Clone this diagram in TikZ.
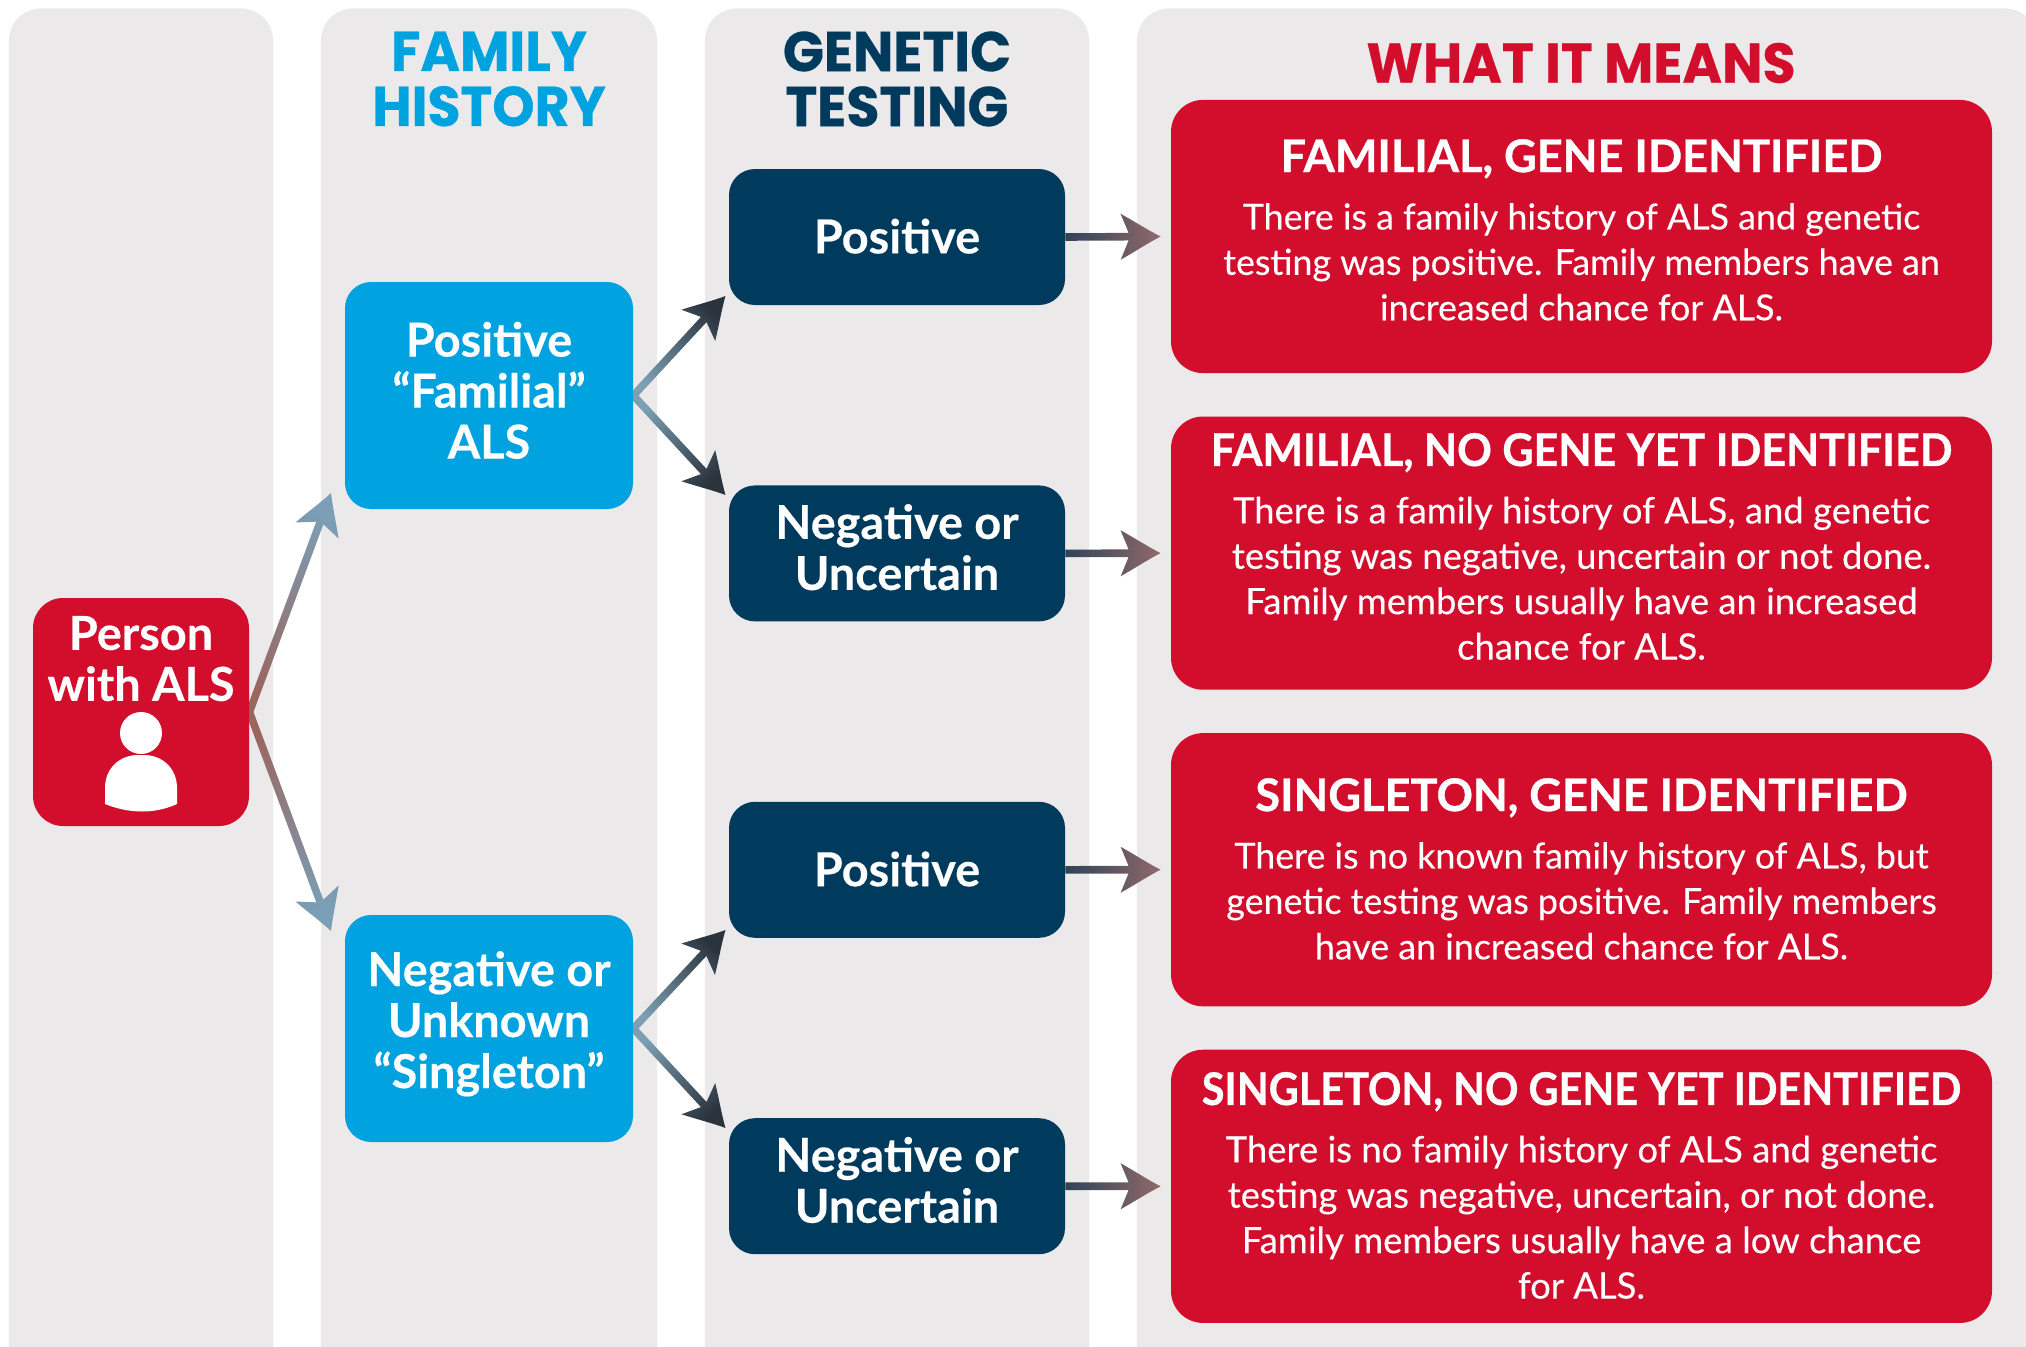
\documentclass[tikz,border=0pt]{standalone}
\usepackage{fontspec}
\setmainfont{Lato}[BoldFeatures={FakeBold=0.3}]
\newfontfamily\headfont{Poppins}[FakeStretch=0.96, BoldFeatures={FakeBold=0.5}]
\newfontfamily\titlefont{Lato}[FakeStretch=0.92, BoldFeatures={FakeBold=0.7}]
\newfontfamily\bodyfont{Lato}[FakeBold=0.25]
\usetikzlibrary{positioning, calc, backgrounds}
\definecolor{panelgray}{HTML}{EBE9EA}
\definecolor{alsred}{HTML}{D30E2D}
\definecolor{alsblue}{HTML}{00A3E0}
\definecolor{alsnavy}{HTML}{003A5D}
\definecolor{brownstart}{HTML}{9A6660}
\definecolor{steelend}{HTML}{7A9FB6}
\definecolor{steelstart}{HTML}{7C9FB4}
\definecolor{inkend}{HTML}{2B343D}
\definecolor{inkstart}{HTML}{2F4459}
\definecolor{brownend}{HTML}{90696A}
\tikzset{
    panel/.style={
        rectangle,
        fill=panelgray,
        rounded corners=16pt,
        anchor=north,
        minimum height=700pt,
        minimum width=#1
    },
    heading/.style={
        align=center,
        inner sep=0pt,
        font=\headfont\bfseries\fontsize{28}{27.5}\selectfont,
        text=#1
    },
    stepbox/.style={
        rectangle,
        rounded corners=13pt,
        align=center,
        inner sep=0pt,
        text=white,
        font=\bfseries\fontsize{23.4}{25.5}\selectfont,
        minimum width=168pt,
        minimum height=68pt,
        fill=#1
    },
    result/.style 2 args={
        rectangle,
        rounded corners=16pt,
        align=center,
        inner sep=0pt,
        text=white,
        font=\bodyfont\fontsize{#1}{22.7}\selectfont,
        minimum width=410.5pt,
        minimum height=136.6pt,
        fill=alsred,
        execute at end node={\rule[-#2]{0pt}{1pt}}
    }
}
% horizontal squeeze, title text
\newcommand{\restitle}[2]{\scalebox{#1}[1]{\titlefont\bfseries\fontsize{22.5}{26}\selectfont #2}\\[6pt]}
% from, to, start colour, end colour
\newcommand{\flowarrow}[4]{
    \path let \p1=($(#2)-(#1)$), \n1={atan2(\y1,\x1)}, \n2={veclen(\x1,\y1)} in
        \pgfextra{\xdef\arrowangle{\n1}\xdef\arrowlen{\n2}};
    \shade[shift={(#1)}, rotate=\arrowangle, bottom color=#3, top color=#4, shading angle=\arrowangle-90]
        (0pt,1.9pt) -- ({\arrowlen-16pt},1.9pt) -- ({\arrowlen-20pt},11.5pt)
        .. controls ({\arrowlen-12pt},7pt) and ({\arrowlen-6pt},3pt) .. ({\arrowlen},0pt)
        .. controls ({\arrowlen-6pt},-3pt) and ({\arrowlen-12pt},-7pt) .. ({\arrowlen-20pt},-11.5pt)
        -- ({\arrowlen-16pt},-1.9pt) -- (0pt,-1.9pt) -- cycle;
}
\begin{document}
\begin{tikzpicture}[x=0.5pt, y=-0.5pt, node distance=21.3pt and 0pt]
    \useasboundingbox (0,0) rectangle (2026,1346);

    \node[stepbox=alsred, minimum width=108pt, minimum height=114pt, rounded corners=15pt] (person) at (141,712) {};
    \node[below=9pt of person.north, align=center, inner sep=0pt, text=white, font=\bfseries\fontsize{23.4}{25.5}\selectfont] (personlabel) {Person\\with ALS};
    \fill[white] (141,733) circle[radius=21];
    \fill[white] (105,804) -- (105,788) .. controls (105,768) and (120,755) .. (138,755) -- (144,755)
        .. controls (162,755) and (177,768) .. (177,788) -- (177,804) .. controls (155,814) and (130,814) .. cycle;

    \node[stepbox=alsblue, minimum width=144pt, minimum height=113.5pt] (familial)  at (489,395.5)  {Positive\\“Familial”\\ALS\rule[-5.3pt]{0pt}{1pt}};
    \node[stepbox=alsblue, minimum width=144pt, minimum height=113.5pt] (singleton) at (489,1028.5) {Negative or\\Unknown\\“Singleton”\rule[-8.9pt]{0pt}{1pt}};

    \node[stepbox=alsnavy] (posa) at (897,237) {Positive\rule[-1pt]{0pt}{1pt}};
    \node[stepbox=alsnavy, below=89.8pt of posa] (nega) {Negative or\\Uncertain\rule[-6.4pt]{0pt}{1pt}};
    \node[stepbox=alsnavy, below=89.8pt of nega] (posb) {Positive\rule[-1pt]{0pt}{1pt}};
    \node[stepbox=alsnavy, below=89.8pt of posb] (negb) {Negative or\\Uncertain\rule[-6.4pt]{0pt}{1pt}};

    \node[result={17.9}{6.8pt}] (resa) at (1581.5,236.5) {\restitle{1.09}{FAMILIAL, GENE IDENTIFIED}There is a family history of ALS and genetic\\testing was positive. Family members have an\\increased chance for ALS.};
    \node[result={18.2}{6.8pt}, below=of resa] (resb) {\restitle{1.04}{FAMILIAL, NO GENE YET IDENTIFIED}There is a family history of ALS, and genetic\\testing was negative, uncertain or not done.\\Family members usually have an increased\\chance for ALS.};
    \node[result={17.9}{1pt}, below=of resb] (resc) {\restitle{1.09}{SINGLETON, GENE IDENTIFIED}There is no known family history of ALS, but\\genetic testing was positive. Family members\\have an increased chance for ALS.};
    \node[result={18.2}{1pt}, below=of resc] (resd) {\restitle{1.0}{SINGLETON, NO GENE YET IDENTIFIED}There is no family history of ALS and genetic\\testing was negative, uncertain, or not done.\\Family members usually have a low chance\\for ALS.};

    \node[heading=alsblue] (famhead)  at (489,79) {FAMILY\\HISTORY};
    \node[heading=alsnavy] (genhead)  at (897,79) {GENETIC\\TESTING};
    \node[heading=alsred]  (meanhead) at (1581,63) {WHAT IT MEANS};

    \coordinate (tipfam)  at (331,493);
    \coordinate (tipsin)  at (331,931);
    \coordinate (tipposa) at (725.5,296);
    \coordinate (tipnega) at (725.5,495);
    \coordinate (tipposb) at (725.5,930);
    \coordinate (tipnegb) at (725.5,1128);
    \coordinate[left=5pt of resa.west] (tipresa);
    \coordinate[left=5pt of resb.west] (tipresb);
    \coordinate[left=5pt of resc.west] (tipresc);
    \coordinate[left=5pt of resd.west] (tipresd);

    \begin{scope}[on background layer]
        \node[panel=132pt]   (colperson) at (141,8)  {};
        \node[panel=168pt]   (colfamily) at (489,8)  {};
        \node[panel=192pt]   (colgene)   at (897,8)  {};
        \node[panel=450pt]   (colmeans)  at (1587,8) {};

        \flowarrow{person.east}{tipfam}{brownstart}{steelend}
        \flowarrow{person.east}{tipsin}{brownstart}{steelend}
        \flowarrow{familial.east}{tipposa}{steelstart}{inkend}
        \flowarrow{familial.east}{tipnega}{steelstart}{inkend}
        \flowarrow{singleton.east}{tipposb}{steelstart}{inkend}
        \flowarrow{singleton.east}{tipnegb}{steelstart}{inkend}
        \flowarrow{posa.east}{tipresa}{inkstart}{brownend}
        \flowarrow{nega.east}{tipresb}{inkstart}{brownend}
        \flowarrow{posb.east}{tipresc}{inkstart}{brownend}
        \flowarrow{negb.east}{tipresd}{inkstart}{brownend}
    \end{scope}
\end{tikzpicture}
\end{document}
